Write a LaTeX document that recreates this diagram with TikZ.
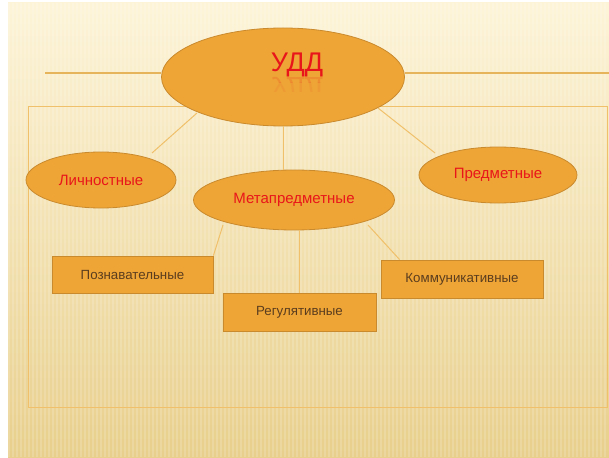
\documentclass[tikz,border=0pt]{standalone}
\usepackage{fontspec}
\setmainfont{Liberation Sans}
\usetikzlibrary{shapes.geometric,calc}
\definecolor{bgtop}{HTML}{FDF4D8}
\definecolor{bgbot}{HTML}{E8CF8C}
\definecolor{fillor}{HTML}{EFA536}
\definecolor{bordor}{HTML}{C98A2E}
\definecolor{lineor}{HTML}{F0C06A}
\definecolor{hline}{HTML}{E6B45A}
\definecolor{redtxt}{HTML}{E8161A}
\definecolor{boxtxt}{HTML}{5A3D1E}
\tikzset{
  oval/.style={ellipse, draw=bordor, fill=fillor, line width=0.8pt, text=redtxt, inner sep=0pt, font=\fontsize{15}{17}\selectfont},
  boxnode/.style={rectangle, draw=bordor, fill=fillor, line width=0.8pt, text=boxtxt, font=\fontsize{13.3}{15}\selectfont, inner sep=0pt},
  conn/.style={draw=lineor, line width=1pt},
  hconn/.style={draw=hline, line width=2pt}
}
\begin{document}
\begin{tikzpicture}[x=1pt,y=-1pt]
\useasboundingbox (0,0) rectangle (609,457);
\fill[white] (0,0) rectangle (609,457);
\shade[top color=bgtop, bottom color=bgbot] (8,3) rectangle (609,457);
\foreach \i in {0,...,149} {
  \fill[white, opacity=0.16] (8+\i*4,3) rectangle (9.5+\i*4,457);
}
% frame
\draw[lineor, line width=1pt] (28,107) rectangle (607,407);
% free ends of the horizontal lines
\coordinate (hl) at (45,73);
\coordinate (hr) at (609,73);
% nodes
\node[oval, minimum width=243pt, minimum height=98pt] (udd) at (283,77) {};
\node[text=redtxt, font=\fontsize{27}{30}\selectfont, anchor=base] (uddt) at (297,72) {УДД};
\begin{scope}
\clip (250,75) rectangle (340,83);
\node[text=redtxt, font=\fontsize{27}{30}\selectfont, opacity=0.16, yscale=-1, anchor=base] (uddr) at (297,78) {УДД};
\end{scope}
\begin{scope}
\clip (250,83) rectangle (340,92);
\node[text=redtxt, font=\fontsize{27}{30}\selectfont, opacity=0.07, yscale=-1, anchor=base] (uddr2) at (297,78) {УДД};
\end{scope}
\node[oval, minimum width=150pt, minimum height=56pt] (lich) at (101,180) {Личностные};
\node[oval, minimum width=201pt, minimum height=60pt] (meta) at (294,200) {Метапредметные};
\node[oval, minimum width=158pt, minimum height=56pt] (pred) at (498,175) {Предметные};
\node[boxnode, minimum width=161pt, minimum height=37pt] (pozn) at (132.5,274.5) {Познавательные};
\node[boxnode, minimum width=153pt, minimum height=38pt] (reg) at (299.5,312) {Регулятивные};
\node[boxnode, minimum width=162pt, minimum height=38pt] (komm) at (462,279) {Коммуникативные};
% connectors
\draw[hconn] (hl) -- (hl -| udd.west);
\draw[hconn] (hr -| udd.east) -- (hr);
\draw[conn] ($(udd.center)+(-86,36)$) -- ($(lich.center)+(51,-27)$);
\draw[conn] (udd.south) -- (udd.south |- meta.north);
\draw[conn] ($(udd.center)+(95,31)$) -- ($(pred.center)+(-63,-22)$);
\draw[conn] ($(meta.center)+(-71,25)$) -- (pozn.north east);
\draw[conn] (meta.south -| reg.north) -- (reg.north);
\draw[conn] ($(meta.center)+(74,25)$) -- ($(komm.north west)+(19,0)$);
\end{tikzpicture}
\end{document}
